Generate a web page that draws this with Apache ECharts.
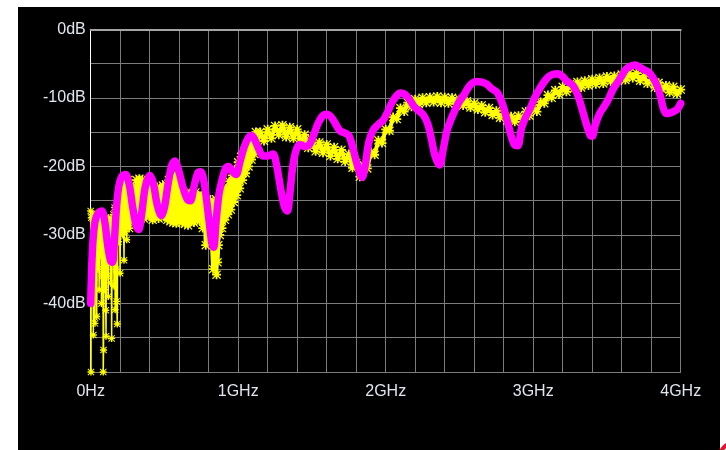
<!DOCTYPE html>
<html>
<head>
<meta charset="utf-8">
<script src="https://cdn.jsdelivr.net/npm/echarts@6/dist/echarts.min.js"></script>
<style>
  html, body { margin: 0; padding: 0; background: #ffffff; }
  #panel { position: absolute; left: 18px; top: 7px; width: 702px; height: 443px; background: #000000; }
  #chart { position: absolute; left: 0; top: 0; width: 726px; height: 450px; }
</style>
</head>
<body>
<div id="panel"></div>
<div id="chart"></div>
<script>
// Frequency axis: 0 .. 4 GHz, grid every 200 MHz, labels every 1 GHz
const freqTicks = [0, 1, 2, 3, 4];
const freqTickLabels = ['0Hz', '1GHz', '2GHz', '3GHz', '4GHz'];
// Level axis: 0 .. -50 dB, grid every 5 dB, labels every 10 dB
const levelTicks = [0, -10, -20, -30, -40];
const levelTickLabels = ['0dB', '-10dB', '-20dB', '-30dB', '-40dB'];

// Trace 1 (yellow, raw sweep), low-frequency part with deep noise spikes: [GHz, dB]
const traceRawLow = [
  [0.000,-26.5],[0.002,-50],[0.004,-27.5],[0.007,-34.6],[0.010,-27],[0.013,-39.7],[0.016,-28],[0.018,-44.6],
  [0.021,-27.5],[0.023,-36.6],[0.026,-27],[0.029,-42.9],[0.032,-28.5],[0.036,-31],[0.039,-27.5],[0.041,-41.9],
  [0.045,-28],[0.049,-35],[0.053,-27],[0.057,-38],[0.061,-28.5],[0.065,-33],[0.069,-27.5],[0.073,-40],
  [0.077,-29],[0.081,-36],[0.083,-28],[0.085,-50],[0.087,-46.8],[0.090,-28],[0.094,-38],[0.098,-27.5],
  [0.102,-41],[0.104,-44.8],[0.107,-29],[0.111,-36],[0.115,-28],[0.119,-39],[0.123,-27.5],[0.127,-34],
  [0.131,-28.5],[0.135,-37],[0.139,-28],[0.142,-45.1],[0.146,-29],[0.150,-33],[0.154,-27],[0.158,-37.5],
  [0.162,-26],[0.166,-40.9],[0.170,-27],[0.174,-35],[0.176,-39.7],[0.180,-43],[0.184,-27],[0.188,-31],
  [0.192,-25],[0.196,-29],[0.199,-35.6],[0.203,-24],[0.207,-29.5],[0.211,-23],[0.215,-30],[0.219,-22.5],
  [0.223,-29],[0.226,-33.7],[0.230,-22],[0.234,-29.5],[0.238,-22.5],[0.241,-28.5],[0.244,-30.7],[0.248,-23],
  [0.25,-22.0]
];

// Trace 1 (yellow, raw sweep), dense band from 250 MHz up: [GHz, dB]
const traceRawBand = [
  [0.25,-22.0],[0.26,-29.0],[0.27,-22.8],[0.28,-27.8],[0.29,-23.2],[0.30,-27.2],[0.31,-22.0],[0.32,-27.5],
  [0.33,-21.8],[0.34,-26.8],[0.35,-22.0],[0.36,-27.6],[0.37,-22.6],[0.38,-27.0],[0.39,-22.0],[0.40,-27.3],
  [0.41,-22.4],[0.42,-27.8],[0.43,-23.5],[0.44,-27.2],[0.45,-23.0],[0.46,-27.6],[0.47,-23.2],[0.48,-26.9],
  [0.49,-22.8],[0.50,-27.4],[0.51,-22.6],[0.52,-27.8],[0.53,-22.0],[0.54,-28.0],[0.55,-21.5],[0.56,-28.2],
  [0.57,-21.4],[0.58,-28.3],[0.59,-22.0],[0.60,-27.8],[0.61,-23.4],[0.62,-28.2],[0.63,-24.0],[0.64,-28.4],
  [0.65,-23.8],[0.66,-28.6],[0.67,-24.2],[0.68,-28.0],[0.69,-24.0],[0.70,-28.2],[0.71,-23.8],[0.72,-27.6],
  [0.73,-24.2],[0.74,-28.0],[0.75,-24.5],[0.76,-29.0],[0.77,-24.3],[0.78,-31.5],[0.79,-24.8],[0.80,-30.0],
  [0.81,-25.0],[0.82,-30.5],[0.83,-35.0],[0.84,-25.2],[0.845,-31.0],[0.85,-24.8],[0.853,-35.8],[0.856,-25.5],
  [0.86,-34.0],[0.865,-31.5],[0.87,-25.0],[0.875,-30.0],[0.88,-24.5],[0.89,-29.0],[0.90,-24.0],[0.91,-27.8],
  [0.92,-23.2],[0.93,-27.0],[0.94,-22.2],[0.95,-26.3],[0.96,-21.3],[0.97,-25.2],[0.98,-20.5],[0.99,-24.2],
  [1.00,-19.4],[1.01,-23.2],[1.02,-18.6],[1.03,-22.0],[1.04,-17.8],[1.05,-21.0],[1.06,-17.0],[1.07,-20.0],
  [1.08,-16.3],[1.09,-19.0],[1.10,-15.6],[1.11,-18.2],[1.12,-15.0],
  [1.125,-16.9],[1.15,-15.0],[1.175,-16.3],[1.2,-14.6],[1.225,-15.9],[1.25,-14.1],[1.275,-15.4],[1.3,-14.0],
  [1.325,-15.7],[1.35,-14.3],[1.375,-15.9],[1.4,-14.6],[1.425,-16.5],[1.45,-15.4],[1.475,-17.3],[1.5,-16.1],
  [1.525,-17.8],[1.55,-16.5],[1.575,-18.0],[1.6,-16.8],[1.625,-18.5],[1.65,-17.2],[1.675,-18.9],[1.7,-17.6],
  [1.725,-19.3],[1.75,-18.2],[1.775,-20.2],[1.8,-19.5],[1.825,-21.5],[1.85,-19.8],[1.875,-20.3],[1.9,-17.9],
  [1.925,-18.3],[1.95,-16.2],[1.975,-16.6],[2.0,-14.6],[2.025,-14.8],[2.05,-12.8],[2.075,-13.1],[2.1,-11.5],
  [2.125,-12.0],[2.15,-10.7],[2.175,-11.3],[2.2,-10.2],[2.225,-10.9],[2.25,-10.0],[2.275,-10.7],[2.3,-9.9],
  [2.325,-10.6],[2.35,-9.8],[2.375,-10.7],[2.4,-9.9],[2.425,-10.8],[2.45,-10.0],[2.475,-10.9],[2.5,-10.2],
  [2.525,-11.1],[2.55,-10.5],[2.575,-11.4],[2.6,-10.8],[2.625,-11.7],[2.65,-11.1],[2.675,-12.1],[2.7,-11.5],
  [2.725,-12.5],[2.75,-11.9],[2.775,-12.9],[2.8,-12.3],[2.825,-13.3],[2.85,-12.7],[2.875,-13.5],[2.9,-12.6],
  [2.925,-13.1],[2.95,-12.0],[2.975,-12.6],[3.0,-11.5],[3.025,-12.0],[3.05,-10.6],[3.075,-10.8],[3.1,-9.6],
  [3.125,-10.0],[3.15,-8.9],[3.175,-9.5],[3.2,-8.4],[3.225,-9.1],[3.25,-8.0],[3.275,-8.7],[3.3,-7.7],
  [3.325,-8.5],[3.35,-7.5],[3.375,-8.2],[3.4,-7.3],[3.425,-8.0],[3.45,-7.1],[3.475,-7.9],[3.5,-6.9],
  [3.525,-7.6],[3.55,-6.8],[3.575,-7.5],[3.6,-6.6],[3.625,-7.4],[3.65,-6.4],[3.675,-7.1],[3.7,-6.4],
  [3.725,-7.5],[3.75,-6.8],[3.775,-7.9],[3.8,-7.4],[3.825,-8.5],[3.85,-7.8],[3.875,-8.8],[3.9,-8.2],
  [3.925,-9.2],[3.95,-8.4],[3.975,-9.4],[4.0,-8.8]
];

// Trace 2 (magenta, smoothed): [GHz, dB]
const traceSmooth = [
  [0.000,-40.0],[0.005,-36],[0.015,-31],[0.03,-28],[0.05,-26.8],[0.075,-26.5],[0.095,-28],[0.115,-31.5],
  [0.135,-33.8],[0.148,-34.0],[0.16,-31],[0.175,-26],[0.19,-23],[0.21,-21.5],[0.235,-21.2],[0.26,-22.5],
  [0.285,-26],[0.31,-28.8],[0.325,-29.2],[0.345,-27],[0.37,-23],[0.40,-21.3],[0.425,-22.5],[0.45,-25.5],
  [0.48,-27.2],[0.50,-26],[0.525,-22.5],[0.55,-19.8],[0.57,-19.2],[0.595,-20.5],[0.625,-23],[0.655,-24.8],
  [0.675,-25],[0.70,-23],[0.725,-21],[0.745,-20.8],[0.77,-22.5],[0.80,-27.5],[0.82,-31],[0.833,-31.8],
  [0.85,-28],[0.87,-24],[0.89,-22],[0.915,-20.3],[0.935,-20.0],[0.955,-20.6],[0.985,-21.2],[1.01,-19.5],
  [1.04,-17.2],[1.07,-15.8],[1.09,-15.5],[1.11,-16],[1.14,-17.5],[1.17,-18.5],[1.20,-18.5],[1.235,-18.2],
  [1.26,-19.8],[1.29,-23.5],[1.315,-26],[1.333,-26.5],[1.35,-24],[1.37,-20],[1.395,-17.5],[1.42,-16.8],
  [1.45,-17.1],[1.48,-16.9],[1.51,-15.5],[1.54,-13.8],[1.57,-12.7],[1.60,-12.4],[1.63,-12.8],[1.66,-13.8],
  [1.69,-14.8],[1.72,-15.1],[1.75,-15.5],[1.78,-17.5],[1.81,-20],[1.84,-21.6],[1.86,-20],[1.885,-16.5],
  [1.915,-14.7],[1.95,-13.9],[1.985,-13.2],[2.01,-12.2],[2.04,-10.8],[2.07,-9.8],[2.10,-9.3],[2.13,-9.5],
  [2.16,-10.2],[2.19,-11.2],[2.22,-11.8],[2.255,-12.5],[2.285,-13.8],[2.31,-16],[2.335,-18.5],[2.365,-19.8],
  [2.39,-17.5],[2.415,-14.8],[2.44,-13.3],[2.47,-11.8],[2.50,-10.5],[2.53,-9.6],[2.56,-8.5],[2.59,-7.8],
  [2.62,-7.6],[2.65,-7.7],[2.685,-8],[2.72,-8.7],[2.755,-9.2],[2.79,-10.8],[2.82,-13],[2.85,-15.5],
  [2.875,-16.9],[2.895,-17.0],[2.92,-14.5],[2.95,-12.8],[2.98,-11.5],[3.01,-10],[3.04,-8.8],[3.07,-7.8],
  [3.10,-7.0],[3.13,-6.6],[3.17,-6.5],[3.20,-6.9],[3.23,-7.6],[3.27,-8.2],[3.30,-9.5],[3.33,-11.5],
  [3.36,-13.8],[3.385,-15.4],[3.40,-15.6],[3.42,-14],[3.45,-12.3],[3.48,-11.3],[3.51,-10.2],[3.54,-8.8],
  [3.57,-7.8],[3.60,-6.8],[3.63,-5.8],[3.66,-5.4],[3.69,-5.2],[3.72,-5.5],[3.75,-5.9],[3.78,-6.2],
  [3.81,-7],[3.84,-8.2],[3.865,-10.0],[3.885,-11.7],[3.905,-12.3],[3.93,-12.2],[3.95,-12.0],[3.975,-11.7],
  [4.0,-10.8]
];

// Asterisk marker used by the raw sweep
const asterisk = 'path://M0,4L10,4L10,6L0,6ZM4,0L6,0L6,10L4,10ZM1,0L10,9L9,10L0,1ZM9,0L10,1L1,10L0,9Z';

const labelFont = {
  color: '#dfe6ee',
  fontFamily: '"Liberation Sans", Arial, sans-serif',
  fontSize: 16
};

function near(a, b) { return Math.abs(a - b) < 1e-6; }

const chart = echarts.init(document.getElementById('chart'), null, { renderer: 'canvas' });
chart.setOption({
  backgroundColor: 'transparent',
  animation: false,
  grid: { left: 90.7, right: 45.3, top: 29.3, bottom: 78, containLabel: false },
  xAxis: [{
    type: 'value', min: 0, max: 4, interval: 0.2, position: 'bottom',
    axisLine: { show: true, onZero: false, lineStyle: { color: '#7c7c7c', width: 1 } },
    axisTick: { show: false },
    splitLine: { show: true, lineStyle: { color: '#7c7c7c', width: 1 } },
    axisLabel: Object.assign({
      margin: 12,
      showMinLabel: true, showMaxLabel: true, hideOverlap: false,
      formatter: function (v) {
        for (let i = 0; i < freqTicks.length; i++) {
          if (near(v, freqTicks[i])) return freqTickLabels[i];
        }
        return '';
      }
    }, labelFont)
  }, {
    type: 'value', min: 0, max: 4, position: 'top',
    axisLine: { show: true, onZero: false, lineStyle: { color: '#a4a4a4', width: 2 } },
    axisTick: { show: false }, axisLabel: { show: false }, splitLine: { show: false }
  }],
  yAxis: {
    type: 'value', min: -50, max: 0, interval: 5,
    axisLine: { show: true, onZero: false, lineStyle: { color: '#ffffff', width: 1 } },
    axisTick: { show: false },
    splitLine: { show: true, lineStyle: { color: '#7c7c7c', width: 1 } },
    axisLabel: Object.assign({
      margin: 5,
      formatter: function (v) {
        for (let i = 0; i < levelTicks.length; i++) {
          if (near(v, levelTicks[i])) return levelTickLabels[i];
        }
        return '';
      }
    }, labelFont)
  },
  series: [{
    name: 'raw-low',
    type: 'line',
    data: traceRawLow,
    symbol: asterisk,
    symbolSize: 7,
    itemStyle: { color: '#ffff00' },
    lineStyle: { color: '#ffff00', width: 1.5 },
    emphasis: { disabled: true },
    z: 2
  }, {
    name: 'raw-band',
    type: 'line',
    data: traceRawBand,
    symbol: asterisk,
    symbolSize: 9,
    itemStyle: { color: '#ffff00' },
    lineStyle: { color: '#ffff00', width: 4, join: 'round' },
    emphasis: { disabled: true },
    z: 2
  }, {
    name: 'smooth',
    type: 'line',
    data: traceSmooth,
    smooth: 0.35,
    symbol: 'none',
    lineStyle: { color: '#ff00ff', width: 7.5, cap: 'round', join: 'round' },
    emphasis: { disabled: true },
    z: 3
  }],
  graphic: [{
    type: 'ring',
    shape: { cx: 734, cy: 457, r: 16, r0: 12 },
    style: { fill: '#e3132c' },
    silent: true
  }]
});
</script>
</body>
</html>
